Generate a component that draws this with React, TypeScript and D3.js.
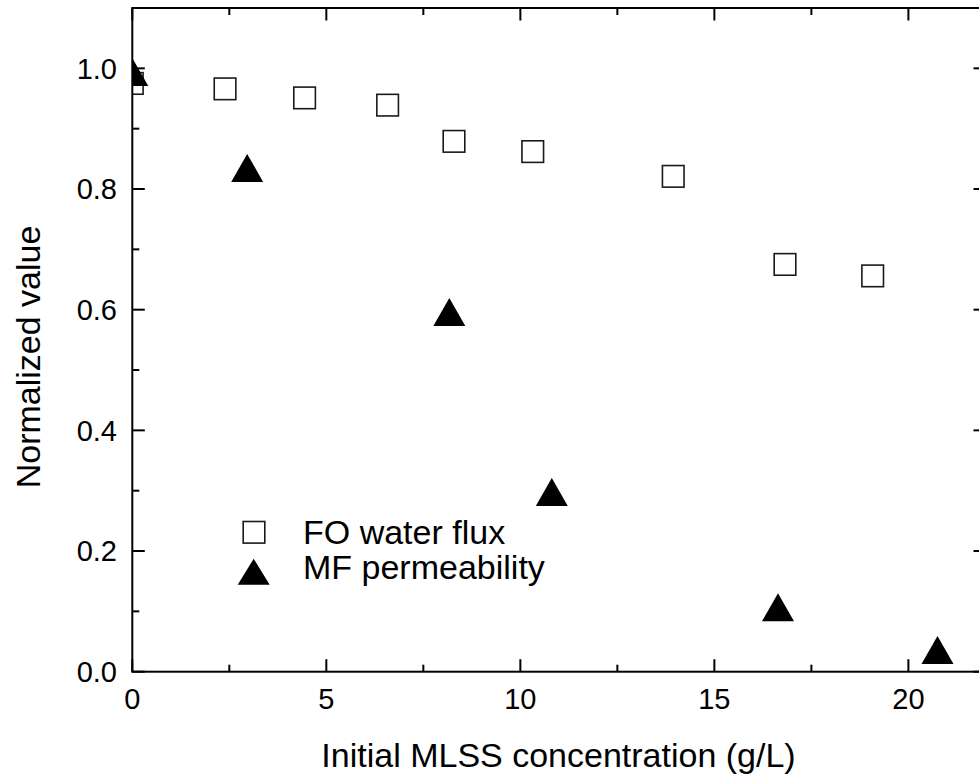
import React, { useEffect, useRef } from 'react';
import * as d3 from 'd3';

// FO water flux (open squares)
const foX = [0, 2.39, 4.44, 6.58, 8.29, 10.32, 13.94, 16.82, 19.08];
const foY = [0.975, 0.966, 0.951, 0.939, 0.879, 0.862, 0.821, 0.675, 0.656];

// MF permeability (filled triangles)
const mfX = [0, 2.96, 8.17, 10.81, 16.64, 20.75];
const mfY = [0.994, 0.835, 0.596, 0.298, 0.107, 0.036];

const xMajor = [0, 5, 10, 15, 20];
const xMinor = [2.5, 7.5, 12.5, 17.5];
const yMajor = [0, 0.2, 0.4, 0.6, 0.8, 1.0];
const yMinor = [0.1, 0.3, 0.5, 0.7, 0.9];

const legendLabels = ['FO water flux', 'MF permeability'];

const App: React.FC = () => {
    const ref = useRef<SVGSVGElement>(null);

    const width = 979;
    const height = 776;
    const left = 132.3;
    const right = 986;
    const top = 8;
    const bottom = 671.7;
    const font = '"Liberation Sans", Arial, sans-serif';

    useEffect(() => {
        drawChart();
        // eslint-disable-next-line
    }, []);

    const drawChart = () => {
        const svg = d3.select(ref.current);
        svg.selectAll('*').remove();

        const x = d3.scaleLinear().domain([0, 22]).range([left, right]);
        const y = d3.scaleLinear().domain([0, 1.1]).range([bottom, top]);

        svg.append('defs').append('clipPath')
            .attr('id', 'plot-clip')
            .append('rect')
            .attr('x', left)
            .attr('y', top)
            .attr('width', right - left)
            .attr('height', bottom - top);

        const triangle = (cx: number, cy: number, w: number, h: number) =>
            `M${cx - w / 2},${cy + h / 2}L${cx},${cy - h / 2}L${cx + w / 2},${cy + h / 2}Z`;

        const plot = svg.append('g').attr('clip-path', 'url(#plot-clip)');

        // squares
        plot.selectAll('rect.fo')
            .data(foX)
            .enter()
            .append('rect')
            .attr('class', 'fo')
            .attr('x', (d) => x(d) - 10.8)
            .attr('y', (d, i) => y(foY[i]) - 10.8)
            .attr('width', 21.6)
            .attr('height', 21.6)
            .attr('fill', '#fff')
            .attr('stroke', '#1a1a1a')
            .attr('stroke-width', 1.6);

        // triangles
        plot.selectAll('path.mf')
            .data(mfX)
            .enter()
            .append('path')
            .attr('class', 'mf')
            .attr('d', (d, i) => triangle(x(d), y(mfY[i]), 32, 28))
            .attr('fill', '#000');

        // frame
        const axes = svg.append('g').attr('stroke', '#000').attr('stroke-width', 2);
        axes.append('rect')
            .attr('x', left)
            .attr('y', top)
            .attr('width', right - left)
            .attr('height', bottom - top)
            .attr('fill', 'none');

        const addXTicks = (vals: number[], len: number) => {
            vals.forEach((v) => {
                axes.append('line')
                    .attr('x1', x(v)).attr('x2', x(v))
                    .attr('y1', bottom).attr('y2', bottom - len);
                axes.append('line')
                    .attr('x1', x(v)).attr('x2', x(v))
                    .attr('y1', top).attr('y2', top + len);
            });
        };
        const addYTicks = (vals: number[], len: number) => {
            vals.forEach((v) => {
                axes.append('line')
                    .attr('x1', left).attr('x2', left + len)
                    .attr('y1', y(v)).attr('y2', y(v));
                axes.append('line')
                    .attr('x1', right).attr('x2', right - len)
                    .attr('y1', y(v)).attr('y2', y(v));
            });
        };
        addXTicks(xMajor, 12.5);
        addXTicks(xMinor, 7);
        addYTicks(yMajor, 12.5);
        addYTicks(yMinor, 7);

        // tick labels
        svg.append('g')
            .selectAll('text')
            .data(xMajor)
            .enter()
            .append('text')
            .attr('x', (d) => x(d))
            .attr('y', 709)
            .attr('text-anchor', 'middle')
            .attr('font-family', font)
            .attr('font-size', 29)
            .text((d) => d3.format('d')(d));

        svg.append('g')
            .selectAll('text')
            .data(yMajor)
            .enter()
            .append('text')
            .attr('x', 117)
            .attr('y', (d) => y(d))
            .attr('dy', '0.36em')
            .attr('text-anchor', 'end')
            .attr('font-family', font)
            .attr('font-size', 29)
            .text((d) => d3.format('.1f')(d));

        // axis titles
        svg.append('text')
            .attr('x', 558.5)
            .attr('y', 766.5)
            .attr('text-anchor', 'middle')
            .attr('font-family', font)
            .attr('font-size', 34)
            .text('Initial MLSS concentration (g/L)');

        svg.append('text')
            .attr('transform', 'translate(40,357) rotate(-90)')
            .attr('text-anchor', 'middle')
            .attr('font-family', font)
            .attr('font-size', 34)
            .text('Normalized value');

        // legend
        const legend = svg.append('g');
        legend.append('rect')
            .attr('x', 254 - 10.8)
            .attr('y', 532.3 - 10.8)
            .attr('width', 21.6)
            .attr('height', 21.6)
            .attr('fill', '#fff')
            .attr('stroke', '#1a1a1a')
            .attr('stroke-width', 1.6);
        legend.append('path')
            .attr('d', triangle(253.7, 571.7, 32, 26))
            .attr('fill', '#000');
        legend.selectAll('text')
            .data(legendLabels)
            .enter()
            .append('text')
            .attr('x', 303)
            .attr('y', (d, i) => 544 + i * 34.5)
            .attr('font-family', font)
            .attr('font-size', 34)
            .text((d) => d);
    };

    return (
        <svg ref={ref} width={width} height={height}
            style={{ position: 'absolute', left: 0, top: 0, background: '#fff' }}>
        </svg>
    );
};

export default App;
